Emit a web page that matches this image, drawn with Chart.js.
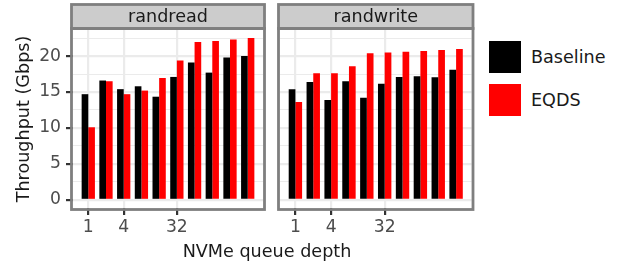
<!DOCTYPE html>
<html>
<head>
<meta charset="utf-8">
<script src="https://cdn.jsdelivr.net/npm/chart.js@4.4.1/dist/chart.umd.min.js"></script>
<style>
  html, body { margin: 0; padding: 0; background: #ffffff; }
  #wrap { position: relative; width: 618px; height: 262px; overflow: hidden; font-family: 'DejaVu Sans', sans-serif; }
  canvas { position: absolute; top: 0; }
  #c1 { left: 0; }
  #c2 { left: 270px; }
  .lg-box { position: absolute; left: 489px; width: 32px; height: 32px; }
  .lg-text { position: absolute; left: 531px; font-size: 17.6px; color: #1a1a1a; line-height: 20px; white-space: nowrap; }
  #xtitle { position: absolute; top: 241px; left: 167px; width: 200px; text-align: center; font-size: 17.6px; color: #1a1a1a; line-height: 20px; white-space: nowrap; }
</style>
</head>
<body>
<div id="wrap">
  <canvas id="c1" width="270" height="262"></canvas>
  <canvas id="c2" width="210" height="262"></canvas>
  <div class="lg-box" style="top:41px;background:#000000;"></div>
  <div class="lg-text" style="top:47px;">Baseline</div>
  <div class="lg-box" style="top:84px;background:#ff0000;"></div>
  <div class="lg-text" style="top:90px;">EQDS</div>
  <div id="xtitle">NVMe queue depth</div>
</div>
<script>
// ---- data ----
const queueDepths = [1, 2, 4, 8, 16, 32, 64, 128, 256, 512];
const tickDepths = [1, 4, 32];
const yTickValues = [0, 5, 10, 15, 20];
const panelNames = ['randread', 'randwrite'];
const seriesNames = ['Baseline', 'EQDS'];
const seriesColors = ['#000000', '#ff0000'];
const readBaseline = [14.7, 16.6, 15.4, 15.8, 14.35, 17.1, 19.1, 17.7, 19.8, 20.0];
const readEQDS = [10.1, 16.5, 14.7, 15.2, 16.95, 19.4, 21.95, 22.1, 22.3, 22.5];
const writeBaseline = [15.4, 16.4, 13.9, 16.5, 14.2, 16.15, 17.1, 17.2, 17.05, 18.1];
const writeEQDS = [13.6, 17.6, 17.6, 18.6, 20.4, 20.5, 20.6, 20.7, 20.85, 21.0];

const FONT = "'DejaVu Sans', sans-serif";
const BORDER = '#7f7f7f';
const GRID = '#ebebeb';

const log2 = v => Math.log2(v);
const yMin = -1.125, yMax = 23.625;
const xMin = -0.8625, xMax = 9.8625;
const minorStep = 2.5;

function stripPlugin(label) {
  return {
    id: 'strip_' + label,
    afterDraw(chart) {
      const ca = chart.chartArea;
      const ctx = chart.ctx;
      ctx.save();
      const x0 = ca.left - 1.5, x1 = ca.right + 1.5;
      const sTop = 4.5, sBot = ca.top - 1.5;
      ctx.fillStyle = '#cccccc';
      ctx.fillRect(x0, sTop, x1 - x0, sBot - sTop);
      ctx.lineWidth = 2.8;
      ctx.strokeStyle = BORDER;
      ctx.strokeRect(x0, sTop, x1 - x0, sBot - sTop);
      ctx.strokeRect(x0, ca.top - 1.5, x1 - x0, ca.bottom - ca.top + 3);
      ctx.fillStyle = '#1a1a1a';
      ctx.font = '17.6px ' + FONT;
      ctx.textAlign = 'center';
      ctx.textBaseline = 'middle';
      ctx.fillText(label, (x0 + x1) / 2, (sTop + sBot) / 2 + 0.5);
      ctx.restore();
    }
  };
}

function makeChart(canvasId, label, baseline, eqds, showY) {
  const ds = [baseline, eqds].map((vals, i) => ({
    label: seriesNames[i],
    data: queueDepths.map((q, j) => ({ x: log2(q), y: vals[j] })),
    backgroundColor: seriesColors[i],
    borderWidth: 0,
    categoryPercentage: 0.75,
    barPercentage: 1.0
  }));
  const minorTicks = [];
  for (let v = 0; v <= 22.5 + 1e-9; v += minorStep) minorTicks.push(v);
  const isMajor = v => Math.abs(v / 5 - Math.round(v / 5)) < 1e-6;
  return new Chart(document.getElementById(canvasId), {
    type: 'bar',
    data: { datasets: ds },
    options: {
      responsive: false,
      animation: false,
      events: [],
      layout: { padding: showY ? { top: 30, right: 7, left: 0, bottom: 0 } : { top: 30, right: 8.5, left: 0, bottom: 0 } },
      plugins: { legend: { display: false }, tooltip: { enabled: false }, title: { display: false } },
      scales: {
        x: {
          type: 'linear',
          min: xMin, max: xMax,
          offset: false,
          afterBuildTicks: s => { s.ticks = tickDepths.map(q => ({ value: log2(q) })); },
          afterFit: s => { s.height = 54; },
          ticks: {
            callback: v => String(Math.round(Math.pow(2, v))),
            font: { family: FONT, size: 17.2 },
            color: '#4d4d4d',
            padding: 2,
            maxRotation: 0
          },
          grid: { offset: false, color: GRID, lineWidth: 2.2, drawTicks: true, tickLength: 7, tickColor: '#333333', tickWidth: 2.2 },
          border: { display: false }
        },
        y: {
          type: 'linear',
          min: yMin, max: yMax,
          afterBuildTicks: s => { s.ticks = minorTicks.map(v => ({ value: v })); },
          afterFit: s => { s.width = showY ? 73 : 10; },
          ticks: {
            display: showY,
            callback: v => (isMajor(v) && yTickValues.includes(Math.round(v))) ? String(Math.round(v)) : '',
            font: { family: FONT, size: 17.2 },
            color: '#4d4d4d',
            padding: 5,
            autoSkip: false
          },
          grid: {
            color: GRID,
            lineWidth: c => isMajor(c.tick.value) ? 2.2 : 1.1,
            drawTicks: showY,
            tickLength: 7,
            tickWidth: 2.2,
            tickColor: c => isMajor(c.tick.value) ? '#333333' : 'rgba(0,0,0,0)'
          },
          border: { display: false },
          title: {
            display: showY,
            text: 'Throughput (Gbps)',
            font: { family: FONT, size: 17.6 },
            color: '#1a1a1a',
            padding: { top: 13.5, bottom: 0 }
          }
        }
      }
    },
    plugins: [stripPlugin(label)]
  });
}

makeChart('c1', panelNames[0], readBaseline, readEQDS, true);
makeChart('c2', panelNames[1], writeBaseline, writeEQDS, false);
</script>
</body>
</html>
